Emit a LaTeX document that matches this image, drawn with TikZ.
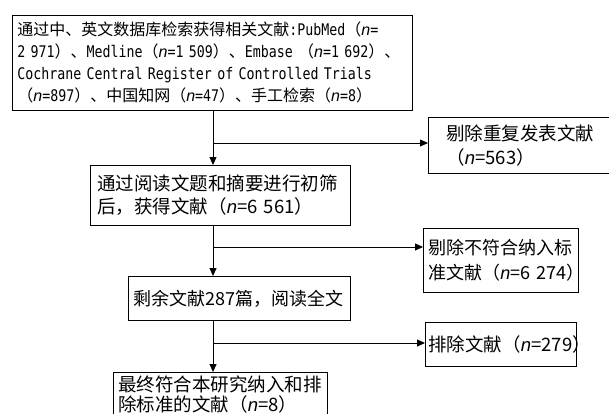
\documentclass[tikz,border=0pt]{standalone}
\usepackage{fontspec}
\setmainfont{Noto Sans CJK SC}
\newfontfamily\monof[FakeStretch=0.83]{DejaVu Sans Mono}
\newfontfamily\latf{Liberation Sans}
\newcommand{\nn}{{\latf\itshape n}}
\usetikzlibrary{arrows.meta}
\begin{document}
\begin{tikzpicture}[x=1pt,y=-1pt,
  box/.style={draw, line width=0.8pt, anchor=north west, align=left, inner ysep=0pt},
  arr/.style={line width=0.8pt, -{Triangle[length=8pt,width=7pt]}},
  ln/.style={line width=0.8pt}]
\useasboundingbox (0,0) rectangle (609,414);
% main column
\node[box, text width=390pt, inner xsep=5pt, minimum height=95pt,
  font=\fontsize{16}{22}\selectfont] (b1) at (12,15)
  {通过中、英文数据库检索获得相关文献{\monof :PubMed}（\nn{\monof =}\\
   {\monof 2~971}）、{\monof Medline}（\nn{\monof =1~509}）、{\monof Embase~}（\nn{\monof =1~692}）、\\
   {\monof Cochrane Central Register of Controlled Trials}\\
   （\nn{\monof =897}）、中国知网（\nn{\monof =47}）、手工检索（\nn{\monof =8}）};
\node[box, text width=246pt, inner xsep=7pt, minimum height=60pt,
  font=\fontsize{18.5}{23}\selectfont] (b2) at (90,165)
  {通过阅读文题和摘要进行初筛\\后，获得文献（\nn=6~561）};
\node[box, text width=212pt, inner xsep=5pt, minimum height=44pt,
  font=\fontsize{18}{22}\selectfont] (b3) at (128,276)
  {剩余文献287篇，阅读全文};
\node[box, text width=204pt, inner xsep=5pt, minimum height=44pt,
  font=\fontsize{18.5}{20}\selectfont] (b4) at (113,372)
  {最终符合本研究纳入和排\\除标准的文献（\nn=8）};
% side column
\node[box, text width=160pt, inner xsep=18pt, minimum height=56pt,
  font=\fontsize{18.5}{24}\selectfont] (r1) at (428,117)
  {剔除重复发表文献\\（\nn=563）};
\node[box, text width=145pt, inner xsep=5pt, minimum height=64pt,
  font=\fontsize{18}{25}\selectfont] (r2) at (423,228)
  {剔除不符合纳入标\\准文献（\nn=6~274）};
\node[box, text width=145pt, inner xsep=3pt, minimum height=44pt,
  font=\fontsize{18.5}{22}\selectfont] (r3) at (425,322)
  {排除文献（\nn=279）};
% connectors
\coordinate (j1) at (213,143);
\coordinate (j2) at (213,247);
\coordinate (j3) at (213,343);
\draw[arr] (b1.south -| j1) -- (b2.north -| j1);
\draw[arr] (j1) -- (j1 -| r1.west);
\draw[arr] (b2.south -| j2) -- (b3.north -| j2);
\draw[arr] (j2) -- (j2 -| r2.west);
\draw[arr] (b3.south -| j3) -- (b4.north -| j3);
\draw[arr] (j3) -- (j3 -| r3.west);
\end{tikzpicture}
\end{document}
